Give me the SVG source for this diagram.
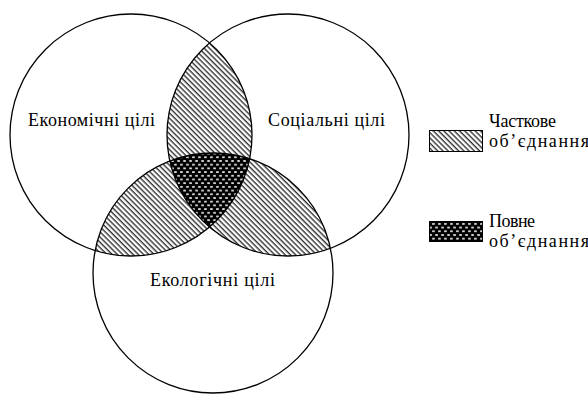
<svg xmlns="http://www.w3.org/2000/svg" width="588" height="394" viewBox="0 0 588 394">
<style>
.outline{fill:none;stroke:#000;stroke-width:1.3}
.lbl{font-family:'Liberation Serif','Times New Roman',serif;font-size:18px;fill:#000}
.hatch{fill:url(#hatch)}
.dark{fill:url(#dots)}
</style>
<defs>
<pattern id="hatch" patternUnits="userSpaceOnUse" width="3.7" height="3.7" patternTransform="rotate(45)">
<rect width="3.7" height="3.7" fill="#fff"/>
<rect y="0" width="3.7" height="1.4" fill="#333"/>
</pattern>
<pattern id="dots" patternUnits="userSpaceOnUse" width="6" height="7.4">
<rect width="6" height="7.4" fill="#000"/>
<ellipse cx="1.5" cy="1.85" rx="1.6" ry="0.9" fill="#ddd"/>
<ellipse cx="4.5" cy="5.55" rx="1.6" ry="0.9" fill="#ddd"/>
</pattern>
<clipPath id="clipR"><circle cx="288" cy="135" r="121"/></clipPath>
<clipPath id="clipB"><circle cx="213" cy="273" r="120"/></clipPath>
</defs>
<rect width="588" height="394" fill="#fff"/>
<g id="overlaps">
<circle class="hatch" cx="131" cy="135" r="121" clip-path="url(#clipR)"/>
<circle class="hatch" cx="131" cy="135" r="121" clip-path="url(#clipB)"/>
<circle class="hatch" cx="288" cy="135" r="121" clip-path="url(#clipB)"/>
<g clip-path="url(#clipR)"><circle class="dark" cx="131" cy="135" r="121" clip-path="url(#clipB)"/></g>
</g>
<g id="economic">
<circle class="outline" cx="131" cy="135" r="121"/>
<text class="lbl" x="28" y="126" textLength="127" lengthAdjust="spacing">Економічні цілі</text>
</g>
<g id="social">
<circle class="outline" cx="288" cy="135" r="121"/>
<text class="lbl" x="268" y="126" textLength="117" lengthAdjust="spacing">Соціальні цілі</text>
</g>
<g id="ecological">
<circle class="outline" cx="213" cy="273" r="120"/>
<text class="lbl" x="150" y="286" textLength="125" lengthAdjust="spacing">Екологічні цілі</text>
</g>
<g id="legend-partial">
<rect class="hatch" x="429.5" y="130.5" width="53" height="21" stroke="#000" stroke-width="1"/>
<text class="lbl" x="489" y="127" textLength="67" lengthAdjust="spacing">Часткове</text>
<text class="lbl" x="489" y="147" textLength="100" lengthAdjust="spacing">об’єднання</text>
</g>
<g id="legend-full">
<rect class="dark" x="429.5" y="221.5" width="53" height="20" stroke="#000" stroke-width="1"/>
<text class="lbl" x="489" y="227" textLength="46" lengthAdjust="spacing">Повне</text>
<text class="lbl" x="489" y="247" textLength="100" lengthAdjust="spacing">об’єднання</text>
</g>
</svg>
